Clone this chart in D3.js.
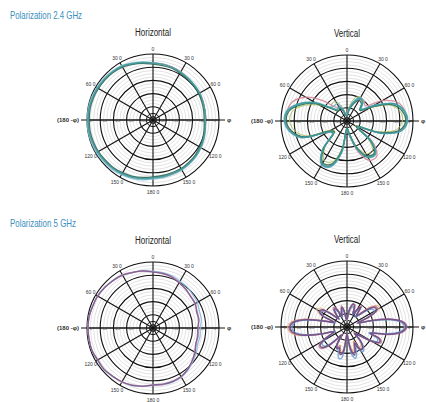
<!DOCTYPE html>
<html>
<head>
<meta charset="utf-8">
<script src="https://cdn.jsdelivr.net/npm/d3@7"></script>
<style>
  body { margin: 0; background: #fff; }
  text { font-family: "Liberation Sans", Arial, sans-serif; }
</style>
</head>
<body>
<svg id="chart" width="426" height="402"></svg>
<script>
// angles (deg, clockwise from top) the traces are sampled at
const angles10 = [0,10,20,30,40,50,60,70,80,90,100,110,120,130,140,150,160,170,
                  180,190,200,210,220,230,240,250,260,270,280,290,300,310,320,330,340,350];
const angles5 = [0,5,10,15,20,25,30,35,40,45,50,55,60,65,70,75,80,85,90,95,100,105,110,115,
                 120,125,130,135,140,145,150,155,160,165,170,175,180,185,190,195,200,205,210,215,
                 220,225,230,235,240,245,250,255,260,265,270,275,280,285,290,295,300,305,310,315,
                 320,325,330,335,340,345,350,355];

// grid
const thickRingDb = [-40, -30, -20, -10, 0];
const thinRingDb = [-2.5, -5, -7.5, -12.5, -15, -17.5, -22.5, -25, -27.5, -32.5, -35, -37.5];
const centerRingDb = [-45, -47.5];
const spokeAngles = [0, 30, 60, 90, 120, 150, 180, 210, 240, 270, 300, 330];
const spokeLabels = ["0", "30 0", "60 0", "\u03c6", "120 0", "150 0", "180 0",
                     "150 0", "120 0", "(180 -\u03c6)", "60 0", "30 0"];
const ringTickLabels = ["-40", "-30", "-20", "-10", "0"];

// 2.4 GHz horizontal (dB)
const h24Blue  = [-6.5,-6.9,-7.3,-8.0,-8.5,-8.8,-9.0,-9.5,-10.0,-10.3,-9.6,-8.8,-7.9,-7.2,-6.8,-6.3,-6.1,-5.7,-5.2,-4.0,-2.9,-2.1,-1.4,-0.9,-0.6,-0.3,-0.1,-0.1,-0.2,-0.4,-0.8,-1.2,-1.7,-2.5,-3.9,-5.3];
const h24Pink  = [-6.9,-7.0,-7.4,-8.0,-8.9,-9.4,-9.3,-9.6,-10.4,-10.5,-10.1,-9.3,-8.6,-7.9,-7.4,-7.0,-6.6,-6.6,-6.3,-5.2,-4.2,-3.3,-2.6,-2.1,-1.8,-1.3,-1.0,-1.1,-1.0,-1.3,-1.7,-2.1,-2.6,-3.2,-4.8,-5.9];
const h24Green = [-7.6,-8.1,-8.3,-9.0,-9.6,-9.8,-10.1,-10.6,-11.0,-11.2,-10.7,-9.9,-9.2,-8.4,-8.0,-7.5,-7.6,-7.3,-6.9,-5.8,-4.6,-3.9,-3.1,-2.8,-2.2,-1.9,-1.6,-1.7,-1.6,-1.9,-2.3,-2.6,-3.1,-3.8,-5.2,-6.5];
const h24Teal  = [-6.8,-7.2,-7.6,-8.3,-8.7,-9.1,-9.1,-9.8,-10.2,-10.6,-9.8,-9.1,-8.3,-7.6,-7.2,-6.8,-6.8,-6.4,-6.1,-4.9,-3.8,-3.0,-2.3,-1.9,-1.5,-1.1,-0.8,-0.8,-0.8,-1.1,-1.5,-1.9,-2.3,-3.0,-4.5,-5.7];

// 2.4 GHz vertical (dB)
const v24Lime  = [-44.0,-38.0,-31.0,-29.0,-30.5,-37.0,-30.0,-15.0,-9.0,-8.0,-12.0,-27.0,-43.0,-29.0,-20.0,-21.5,-30.0,-41.0,-45.0,-29.0,-17.0,-15.5,-24.0,-38.0,-36.0,-17.0,-9.5,-6.5,-8.0,-15.5,-26.0,-34.0,-32.5,-33.0,-38.0,-44.0];
const v24Pink  = [-44.0,-40.0,-35.5,-31.5,-30.0,-32.0,-19.0,-9.0,-5.5,-5.0,-9.5,-24.5,-40.0,-24.0,-15.0,-15.5,-25.0,-38.5,-43.0,-26.5,-14.0,-12.5,-21.0,-36.0,-32.5,-14.5,-6.8,-3.8,-4.0,-6.5,-14.0,-26.0,-36.0,-38.0,-41.0,-45.0];
const v24Blue  = [-45.0,-40.0,-33.5,-29.5,-31.0,-35.5,-26.0,-11.5,-5.6,-4.0,-7.8,-22.8,-41.5,-26.5,-17.2,-18.8,-27.8,-40.0,-44.5,-24.8,-12.8,-11.4,-20.5,-35.8,-32.8,-13.0,-5.5,-2.4,-3.8,-11.4,-22.0,-33.8,-35.0,-34.5,-39.5,-45.0];
const v24Green = [-46.0,-42.0,-36.5,-32.0,-33.0,-37.5,-29.0,-13.8,-7.4,-5.6,-9.6,-25.0,-42.0,-27.0,-18.0,-19.5,-28.5,-40.5,-44.5,-27.5,-15.0,-13.4,-22.5,-37.5,-34.5,-15.0,-7.2,-4.0,-5.6,-13.5,-24.0,-36.0,-40.0,-39.0,-42.0,-46.0];
const v24Teal  = [-45.5,-40.9,-34.8,-30.3,-31.8,-36.4,-27.3,-12.1,-6.1,-4.5,-8.3,-23.5,-40.9,-25.8,-16.7,-18.2,-27.3,-39.4,-43.9,-25.8,-13.6,-12.1,-21.2,-36.4,-33.3,-13.6,-6.1,-3.0,-4.5,-12.1,-22.7,-34.8,-38.6,-37.9,-40.9,-45.5];

// 5 GHz horizontal (dB)
const h5Blue   = [-7.0,-7.4,-8.0,-9.2,-9.6,-10.8,-11.2,-12.6,-12.8,-14.2,-13.8,-14.0,-12.2,-10.6,-8.6,-7.0,-6.4,-6.4,-6.5,-5.1,-3.6,-2.9,-2.1,-1.4,-1.3,-0.7,-0.6,-0.7,-0.7,-1.4,-1.4,-2.2,-2.9,-3.7,-5.1,-5.9];
const h5Mauve  = [-7.3,-8.3,-8.6,-10.2,-11.8,-12.5,-13.6,-14.2,-15.2,-15.6,-16.0,-15.0,-13.8,-11.0,-9.5,-7.2,-7.1,-6.5,-7.0,-5.0,-4.1,-2.7,-2.6,-1.3,-1.8,-0.6,-1.0,-0.6,-1.0,-1.3,-1.7,-2.1,-3.2,-3.6,-5.0,-6.4];
const h5Purple = [-7.6,-8.0,-8.9,-10.6,-11.4,-12.9,-13.0,-14.8,-14.6,-16.2,-15.4,-15.6,-13.2,-11.4,-9.1,-7.6,-6.8,-6.8,-6.8,-5.3,-3.8,-3.0,-2.3,-1.5,-1.5,-0.8,-0.8,-0.8,-0.8,-1.5,-1.5,-2.3,-3.0,-3.8,-5.3,-6.1];

// 5 GHz vertical (dB), 5 deg steps
const v5Orange = [-45.0,-41.5,-37.0,-34.0,-34.0,-39.0,-36.0,-31.5,-38.5,-34.0,-26.0,-21.5,
                  -22.0,-30.0,-42.0,-31.5,-17.0,-8.0,-5.8,-8.5,-18.0,-31.5,-24.0,-22.5,
                  -28.5,-39.5,-43.5,-38.0,-34.0,-32.0,-33.0,-38.5,-35.0,-31.5,-35.0,-42.5,
                  -45.5,-42.0,-32.0,-31.0,-35.5,-33.5,-36.5,-43.5,-39.5,-30.5,-26.0,-25.5,
                  -29.0,-36.0,-40.5,-28.5,-13.0,-6.5,-5.0,-7.2,-16.0,-31.0,-39.0,-27.5,
                  -23.5,-25.0,-33.0,-41.0,-36.0,-33.5,-35.0,-41.0,-38.0,-35.0,-38.0,-45.0];
const v5Blue   = [-45.0,-41.0,-37.0,-34.0,-35.0,-40.0,-36.5,-33.5,-40.5,-38.0,-31.0,-26.5,
                  -26.0,-32.0,-42.0,-33.5,-18.5,-9.0,-6.5,-9.8,-20.0,-33.0,-26.0,-24.5,
                  -30.0,-40.0,-42.5,-36.0,-30.5,-28.0,-28.5,-34.0,-28.5,-25.5,-28.5,-39.0,
                  -44.5,-36.5,-26.0,-25.5,-30.5,-33.0,-36.0,-43.0,-39.0,-32.0,-27.5,-27.0,
                  -30.5,-38.0,-41.0,-30.5,-17.0,-9.8,-8.2,-10.5,-20.0,-34.5,-41.0,-30.5,
                  -27.5,-29.0,-36.0,-42.0,-38.0,-35.0,-36.5,-42.0,-39.5,-36.5,-39.5,-45.0];
const v5Mauve  = [-44.5,-40.5,-35.5,-32.5,-32.0,-38.0,-35.5,-30.5,-38.0,-35.0,-27.5,-23.0,
                  -23.5,-31.0,-41.5,-30.5,-15.5,-6.8,-4.6,-7.4,-17.0,-30.5,-23.0,-21.5,
                  -27.5,-38.5,-43.0,-37.0,-32.5,-30.5,-31.5,-37.5,-33.0,-29.5,-33.0,-41.5,
                  -45.0,-40.5,-30.5,-29.5,-34.5,-32.5,-35.5,-43.0,-38.5,-29.0,-24.5,-24.0,
                  -27.5,-35.0,-40.0,-29.5,-14.0,-7.5,-6.0,-8.2,-17.0,-32.0,-40.0,-29.5,
                  -26.5,-28.0,-35.5,-41.5,-35.0,-32.0,-33.5,-40.0,-37.0,-33.5,-37.0,-44.5];
const v5Purple = [-43.9,-39.4,-34.8,-31.8,-33.3,-39.4,-34.8,-31.8,-39.4,-36.4,-28.8,-24.2,
                  -24.2,-30.3,-40.9,-31.8,-16.7,-7.6,-5.3,-8.3,-18.2,-31.8,-24.2,-22.7,
                  -28.8,-39.4,-42.4,-36.4,-31.8,-29.5,-30.3,-36.4,-31.8,-28.0,-31.8,-40.9,
                  -45.5,-39.4,-29.5,-28.8,-33.3,-31.8,-34.8,-42.4,-37.9,-30.3,-25.8,-25.0,
                  -28.8,-36.4,-39.4,-28.8,-15.2,-8.3,-6.8,-9.1,-18.2,-33.3,-39.4,-28.8,
                  -25.8,-27.3,-34.8,-40.9,-36.4,-33.3,-34.8,-40.9,-37.9,-34.8,-37.9,-43.9];

const R = 66;
const svg = d3.select("#chart");

function sectionTitle(txt, y, len) {
    svg.append("text")
        .attr("x", 10).attr("y", y)
        .attr("font-size", 10.5)
        .attr("fill", "#3b8fbe")
        .attr("textLength", len)
        .attr("lengthAdjust", "spacingAndGlyphs")
        .text(txt);
}

function drawPolar(cx, cy, title, titleLen, angles, traces) {
    const r = d3.scaleLinear().domain([-50, 0]).range([0, R]).clamp(true);
    const rad = d => d * Math.PI / 180;

    svg.append("text")
        .attr("x", cx).attr("y", cy - 84)
        .attr("text-anchor", "middle")
        .attr("font-size", 10)
        .attr("fill", "#222")
        .attr("textLength", titleLen)
        .attr("lengthAdjust", "spacingAndGlyphs")
        .text(title);

    const g = svg.append("g").attr("transform", `translate(${cx},${cy})`);

    g.selectAll(".thin").data(thinRingDb).enter().append("circle")
        .attr("r", d => r(d))
        .attr("fill", "none").attr("stroke", "#c4c4c4").attr("stroke-width", 0.5);

    // horizontal axis runs a bit past the circle
    g.append("line")
        .attr("x1", -R - 6).attr("x2", R + 6)
        .attr("stroke", "#111").attr("stroke-width", 1.1);

    g.selectAll(".spoke").data(spokeAngles).enter().append("line")
        .attr("x1", 0).attr("y1", 0)
        .attr("x2", d => r(0) * Math.sin(rad(d)))
        .attr("y2", d => -r(0) * Math.cos(rad(d)))
        .attr("stroke", "#111").attr("stroke-width", 1.1);

    g.selectAll(".thick").data(thickRingDb).enter().append("circle")
        .attr("r", d => r(d))
        .attr("fill", "none").attr("stroke", "#111").attr("stroke-width", 1.1);

    g.selectAll(".ctr").data(centerRingDb).enter().append("circle")
        .attr("r", d => r(d))
        .attr("fill", "none").attr("stroke", "#111").attr("stroke-width", 1);
    g.append("circle").attr("r", 1.6).attr("fill", "#111");

    // tiny dB labels along the horizontal axis
    [-1, 1].forEach(side => {
        g.selectAll(null).data(thickRingDb).enter().append("text")
            .attr("x", d => side * (r(d) - 4))
            .attr("y", 1.6)
            .attr("text-anchor", "middle")
            .attr("font-size", 4)
            .attr("fill", "#555")
            .text((d, i) => ringTickLabels[i]);
    });

    // angle labels
    g.selectAll(".alab").data(spokeAngles).enter().append("text")
        .attr("x", d => {
            if (d === 90) return R + 8;
            if (d === 270) return -R - 8;
            return (R + 6) * Math.sin(rad(d));
        })
        .attr("y", d => {
            if (d === 0) return -R - 3;
            if (d === 180) return R + 8;
            return -(R + 6) * Math.cos(rad(d)) + 2;
        })
        .attr("text-anchor", d => d === 90 ? "start" : d === 270 ? "end" : "middle")
        .attr("font-size", d => (d === 90 || d === 270) ? 6 : 5)
        .attr("font-weight", d => (d === 90 || d === 270) ? "bold" : "normal")
        .attr("fill", "#333")
        .text((d, i) => spokeLabels[i]);

    const line = d3.lineRadial()
        .angle(d => rad(d[0]))
        .radius(d => r(d[1]))
        .curve(d3.curveCatmullRomClosed.alpha(0.5));

    traces.forEach(t => {
        g.append("path")
            .datum(t.values.map((v, i) => [angles[i], v]))
            .attr("d", line)
            .attr("fill", "none")
            .attr("stroke", t.color)
            .attr("stroke-width", t.width || 1.3)
            .attr("stroke-opacity", 0.9);
    });
}

sectionTitle("Polarization 2.4 GHz", 19, 72);
sectionTitle("Polarization 5 GHz", 227, 66);

drawPolar(153, 120, "Horizontal", 36, angles10, [
    {values: h24Blue, color: "#86c3dc"},
    {values: h24Pink, color: "#d58c9c"},
    {values: h24Green, color: "#2f6c57"},
    {values: h24Teal, color: "#3d9c9e", width: 1.5}
]);
drawPolar(347, 121, "Vertical", 26, angles10, [
    {values: v24Lime, color: "#a9bb55", width: 1},
    {values: v24Pink, color: "#d4889a"},
    {values: v24Blue, color: "#6fb4cf"},
    {values: v24Green, color: "#2d6a55"},
    {values: v24Teal, color: "#3c9b9c", width: 1.6}
]);
drawPolar(153, 328, "Horizontal", 36, angles10, [
    {values: h5Blue, color: "#8dbbe0"},
    {values: h5Mauve, color: "#c58aa6"},
    {values: h5Purple, color: "#7a5a8e"}
]);
drawPolar(347, 327, "Vertical", 26, angles5, [
    {values: v5Orange, color: "#e9b47c", width: 1.1},
    {values: v5Blue, color: "#6d9fd2"},
    {values: v5Mauve, color: "#c07896"},
    {values: v5Purple, color: "#6c4e88", width: 1.5}
]);
</script>
</body>
</html>
